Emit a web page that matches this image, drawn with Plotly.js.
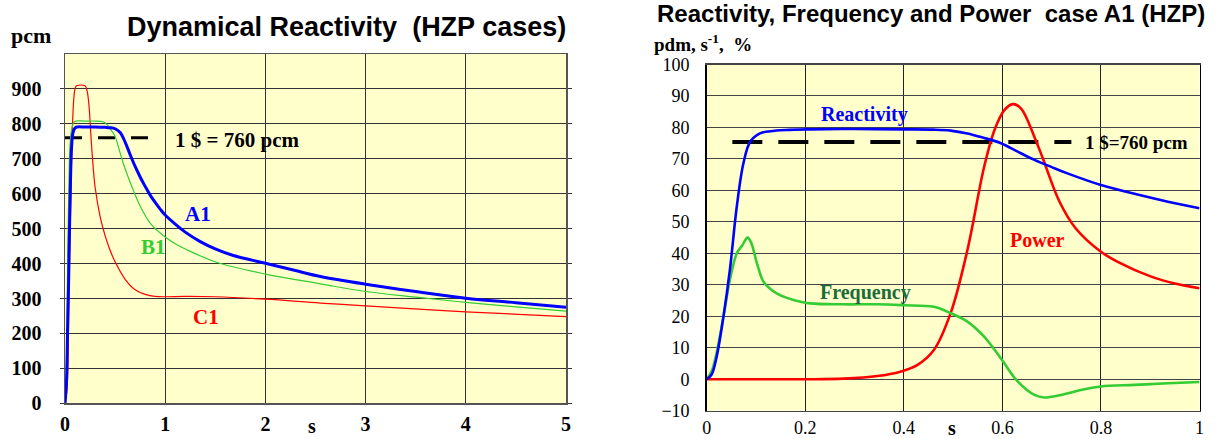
<!DOCTYPE html>
<html>
<head>
<meta charset="utf-8">
<script src="https://cdn.plot.ly/plotly-3.0.1.min.js"></script>
<style>html,body{margin:0;padding:0;background:#fff}#chart{width:1216px;height:439px}</style>
</head>
<body>
<div id="chart"></div>
<script>
// ---- Left chart: Dynamical Reactivity (pcm vs s) ----
const tA1 = [0, 0.015, 0.025, 0.035, 0.045, 0.055, 0.065, 0.08, 0.1, 0.12, 0.2, 0.3, 0.4, 0.45, 0.5, 0.55, 0.6, 0.65, 0.7, 0.75, 0.8, 0.85, 0.9, 0.95, 1.0, 1.1, 1.2, 1.35, 1.5, 1.68, 2.0, 2.3, 2.55, 3.0, 3.5, 4.0, 4.5, 5.0];
const rhoA1 = [0, 60, 200, 330, 500, 640, 730, 775, 788, 791, 791, 791, 790, 789, 786, 775, 748, 712, 678, 648, 621, 596, 575, 556, 539, 513, 490, 463, 442, 423, 401, 380, 363, 341, 320, 301, 288, 275];
const tB1 = [0, 0.01, 0.02, 0.03, 0.04, 0.05, 0.07, 0.09, 0.11, 0.2, 0.3, 0.38, 0.42, 0.46, 0.5, 0.54, 0.58, 0.63, 0.68, 0.75, 0.85, 1.0, 1.1, 1.22, 1.52, 2.0, 2.55, 3.0, 3.5, 4.0, 4.5, 5.0];
const rhoB1 = [0, 60, 250, 480, 640, 740, 790, 805, 808, 808, 808, 806, 798, 782, 764, 727, 688, 648, 611, 565, 516, 476, 457, 439, 403, 370, 342, 320, 304, 289, 276, 264];
const tC1 = [0, 0.02, 0.04, 0.06, 0.075, 0.09, 0.1, 0.115, 0.2, 0.22, 0.24, 0.26, 0.28, 0.3, 0.35, 0.4, 0.45, 0.5, 0.6, 0.7, 0.8, 0.9, 1.0, 1.2, 1.5, 2.0, 2.55, 3.0, 4.0, 5.0];
const rhoC1 = [0, 40, 330, 620, 800, 880, 900, 909, 909, 895, 850, 760, 680, 620, 535, 480, 438, 405, 355, 325, 312, 306, 305, 306, 305, 298, 287, 279, 262, 248];
const dollarLeftT = [0, 0.85];
const dollarLeftRho = [760, 760];
const leftXTicks = [0, 1, 2, 3, 4, 5];
const leftYTicks = [0, 100, 200, 300, 400, 500, 600, 700, 800, 900];

// ---- Right chart: Reactivity, Frequency and Power, case A1 ----
const tReact = [0, 0.01, 0.02, 0.034, 0.047, 0.061, 0.0745, 0.088, 0.108, 0.129, 0.16, 0.21, 0.3, 0.4, 0.46, 0.495, 0.529, 0.56, 0.597, 0.63, 0.665, 0.7, 0.732, 0.8, 0.868, 0.936, 1.0];
const reactivity = [0, 1.5, 7, 19.9, 34.7, 54.8, 68.6, 75.4, 78.1, 78.8, 79.2, 79.4, 79.5, 79.4, 79.3, 79, 78.1, 76.8, 75, 72.4, 69.7, 67.4, 65.4, 61.7, 58.9, 56.4, 54.3];
const tFreq = [0, 0.01, 0.02, 0.034, 0.047, 0.061, 0.072, 0.083, 0.09, 0.102, 0.115, 0.13, 0.142, 0.16, 0.176, 0.21, 0.278, 0.346, 0.4, 0.461, 0.495, 0.529, 0.563, 0.597, 0.631, 0.665, 0.685, 0.719, 0.766, 0.8, 0.868, 0.936, 1.0];
const frequency = [0, 2.5, 8.3, 19.9, 31.5, 40, 42.5, 45, 43.5, 36.8, 31, 28.6, 27.3, 26, 25.2, 24.1, 23.8, 23.8, 23.5, 23, 21, 18.3, 13.5, 6.6, -0.7, -5, -5.8, -5, -3.2, -2.3, -1.8, -1.3, -0.9];
const tPower = [0, 0.1, 0.2, 0.278, 0.346, 0.393, 0.427, 0.461, 0.495, 0.529, 0.563, 0.584, 0.604, 0.621, 0.638, 0.665, 0.682, 0.716, 0.749, 0.8, 0.834, 0.902, 0.95, 1.0];
const power = [0, 0, 0, 0.2, 1, 2.4, 4.5, 9.3, 21, 41, 67.5, 79.2, 85.5, 87.4, 86, 77, 70.2, 56.4, 47.9, 40.5, 37.3, 32.6, 30.4, 28.9];
const dollarRightT = [0.052, 0.74];
const dollarRightVal = [75.4, 75.4];
const rightXTicks = [0, 0.2, 0.4, 0.6, 0.8, 1];
const rightXTickText = ['0', '0.2', '0.4', '0.6', '0.8', '1'];
const rightYTicks = [-10, 0, 10, 20, 30, 40, 50, 60, 70, 80, 90, 100];

const BLUE = '#0000FF', GREEN = '#33CC33', RED = '#FF0000';
const SERIF = 'Liberation Serif, Times New Roman, serif';
const SANS = 'Liberation Sans, Arial, sans-serif';

const traces = [
  {x: dollarLeftT, y: dollarLeftRho, xaxis: 'x', yaxis: 'y', mode: 'lines', line: {color: '#000', width: 3, dash: '17px,16px'}},
  {x: tC1, y: rhoC1, xaxis: 'x', yaxis: 'y', mode: 'lines', line: {color: RED, width: 1.2, shape: 'spline', smoothing: 1}},
  {x: tB1, y: rhoB1, xaxis: 'x', yaxis: 'y', mode: 'lines', line: {color: GREEN, width: 1.2, shape: 'spline', smoothing: 1}},
  {x: tA1, y: rhoA1, xaxis: 'x', yaxis: 'y', mode: 'lines', line: {color: BLUE, width: 3, shape: 'spline', smoothing: 1}},
  {x: dollarRightT, y: dollarRightVal, xaxis: 'x2', yaxis: 'y2', mode: 'lines', line: {color: '#000', width: 4, dash: '30px,16px'}},
  {x: tPower, y: power, xaxis: 'x2', yaxis: 'y2', mode: 'lines', line: {color: RED, width: 2.6, shape: 'spline', smoothing: 1}},
  {x: tFreq, y: frequency, xaxis: 'x2', yaxis: 'y2', mode: 'lines', line: {color: GREEN, width: 2.6, shape: 'spline', smoothing: 1}},
  {x: tReact, y: reactivity, xaxis: 'x2', yaxis: 'y2', mode: 'lines', line: {color: BLUE, width: 2.6, shape: 'spline', smoothing: 1}}
];

const W = 1216, H = 439;
const px = v => v / W;
const py = v => 1 - v / H;

const gridC = '#333333';
const layout = {
  width: W, height: H,
  margin: {l: 0, r: 0, t: 0, b: 0, pad: 0},
  paper_bgcolor: '#FFFFFF',
  plot_bgcolor: '#FFFFCC',
  showlegend: false,
  xaxis: {
    domain: [px(65), px(566)], range: [0, 5], anchor: 'y',
    tickmode: 'array', tickvals: leftXTicks,
    showgrid: true, gridcolor: gridC, gridwidth: 1,
    showline: true, linecolor: '#555', linewidth: 1.5, mirror: true,
    zeroline: false, ticks: '', ticklabelstandoff: 2,
    tickfont: {family: SERIF, size: 20, color: '#000', weight: 'bold'}
  },
  yaxis: {
    domain: [py(403.3), py(54)], range: [0, 1000], anchor: 'x',
    tickmode: 'array', tickvals: leftYTicks,
    showgrid: true, gridcolor: gridC, gridwidth: 1,
    showline: true, linecolor: '#555', linewidth: 1.5, mirror: 'ticks',
    zeroline: false, ticks: 'outside', ticklen: 4, tickcolor: gridC, tickwidth: 1,
    ticklabelstandoff: 14,
    tickfont: {family: SERIF, size: 20, color: '#000', weight: 'bold'}
  },
  xaxis2: {
    domain: [px(706.7), px(1199.5)], range: [0, 1], anchor: 'y2',
    tickmode: 'array', tickvals: rightXTicks, ticktext: rightXTickText,
    showgrid: true, gridcolor: '#222', gridwidth: 1,
    showline: true, linecolor: '#444', linewidth: 1.5, mirror: true,
    zeroline: false, ticks: '', ticklabelstandoff: 0,
    tickfont: {family: SERIF, size: 18, color: '#000'}
  },
  yaxis2: {
    domain: [py(410.7), py(64.5)], range: [-10, 100], anchor: 'x2',
    tickmode: 'array', tickvals: rightYTicks,
    showgrid: true, gridcolor: '#444', gridwidth: 1,
    showline: true, linecolor: '#000', linewidth: 1.5, mirror: true,
    zeroline: false, ticks: '', ticklabelstandoff: 12,
    tickfont: {family: SERIF, size: 18, color: '#000'}
  },
  annotations: [
    {xref: 'paper', yref: 'paper', x: px(346), y: py(27), xanchor: 'center', yanchor: 'middle', showarrow: false,
     text: 'Dynamical Reactivity\u00A0\u00A0(HZP cases)', font: {family: SANS, size: 27, color: '#000', weight: 'bold'}},
    {xref: 'paper', yref: 'paper', x: px(31), y: py(35), xanchor: 'center', yanchor: 'middle', showarrow: false,
     text: 'pcm', font: {family: SERIF, size: 22, color: '#000', weight: 'bold'}},
    {xref: 'paper', yref: 'paper', x: px(311.7), y: py(426), xanchor: 'center', yanchor: 'middle', showarrow: false,
     text: 's', font: {family: SERIF, size: 20, color: '#000', weight: 'bold'}},
    {xref: 'x', yref: 'y', x: 1.08, y: 754, xanchor: 'left', yanchor: 'middle', showarrow: false,
     text: '1 $ = 760 pcm', font: {family: SERIF, size: 21, color: '#000', weight: 'bold'}},
    {xref: 'x', yref: 'y', x: 1.33, y: 542, xanchor: 'center', yanchor: 'middle', showarrow: false,
     text: 'A1', font: {family: SERIF, size: 21, color: BLUE, weight: 'bold'}},
    {xref: 'x', yref: 'y', x: 0.88, y: 448, xanchor: 'center', yanchor: 'middle', showarrow: false,
     text: 'B1', font: {family: SERIF, size: 21, color: GREEN, weight: 'bold'}},
    {xref: 'x', yref: 'y', x: 1.41, y: 247, xanchor: 'center', yanchor: 'middle', showarrow: false,
     text: 'C1', font: {family: SERIF, size: 21, color: RED, weight: 'bold'}},

    {xref: 'paper', yref: 'paper', x: px(930.5), y: py(14), xanchor: 'center', yanchor: 'middle', showarrow: false,
     text: 'Reactivity, Frequency and Power\u00A0\u00A0case A1 (HZP)', font: {family: SANS, size: 24, color: '#000', weight: 'bold'}},
    {xref: 'paper', yref: 'paper', x: px(652), y: py(43), xanchor: 'left', yanchor: 'middle', showarrow: false,
     text: 'pdm, s<sup>-1</sup>,\u00A0\u00A0%', font: {family: SERIF, size: 19, color: '#000', weight: 'bold'}},
    {xref: 'paper', yref: 'paper', x: px(952), y: py(428), xanchor: 'center', yanchor: 'middle', showarrow: false,
     text: 's', font: {family: SERIF, size: 20, color: '#000', weight: 'bold'}},
    {xref: 'x2', yref: 'y2', x: 0.32, y: 84.2, xanchor: 'center', yanchor: 'middle', showarrow: false,
     text: 'Reactivity', font: {family: SERIF, size: 20, color: BLUE, weight: 'bold'}},
    {xref: 'x2', yref: 'y2', x: 0.322, y: 27.4, xanchor: 'center', yanchor: 'middle', showarrow: false,
     text: 'Frequency', font: {family: SERIF, size: 20, color: '#1B6B3A', weight: 'bold'}},
    {xref: 'x2', yref: 'y2', x: 0.672, y: 44.2, xanchor: 'center', yanchor: 'middle', showarrow: false,
     text: 'Power', font: {family: SERIF, size: 20, color: RED, weight: 'bold'}},
    {xref: 'x2', yref: 'y2', x: 0.763, y: 75.3, xanchor: 'left', yanchor: 'middle', showarrow: false,
     text: '1 $=760 pcm', font: {family: SERIF, size: 19, color: '#000', weight: 'bold'}}
  ]
};

Plotly.newPlot('chart', traces, layout, {staticPlot: true, displayModeBar: false});
</script>
</body>
</html>
